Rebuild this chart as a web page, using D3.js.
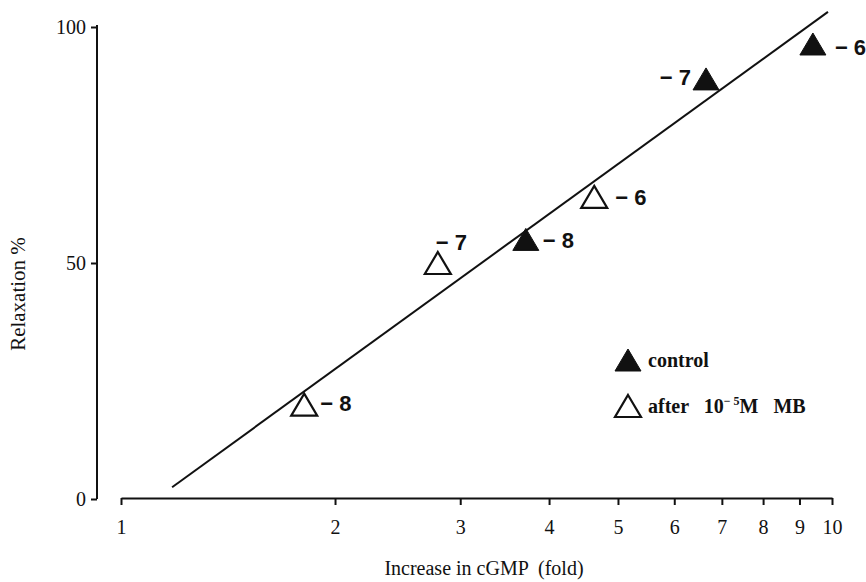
<!DOCTYPE html>
<meta charset="utf-8">
<style>
body { margin: 0; background: #fff; }
text { font-family: "Liberation Serif", "DejaVu Serif", serif; fill: #111; }
.axis path, .axis line { stroke: #111; stroke-width: 2; fill: none; }
.axis text { font-size: 20px; }
.pt { font-family: "Liberation Sans", Arial, sans-serif; font-weight: bold; font-size: 22px; }
</style>
<script src="https://d3js.org/d3.v7.min.js"></script>
<body>
<div id="chart"></div>
<script>
// data
var controlX = [3.71, 6.65, 9.4];
var controlY = [55, 89, 96.4];
var controlLabels = ["− 8", "− 7", "− 6"];

var afterX = [1.81, 2.79, 4.63];
var afterY = [20, 50, 64];
var afterLabels = ["− 8", "− 7", "− 6"];

var fitX = [1.18, 9.87];
var fitY = [2.5, 103.2];

var xTicks = [1, 2, 3, 4, 5, 6, 7, 8, 9, 10];
var yTicks = [0, 50, 100];

var W = 866, H = 582;

var svg = d3.select("#chart").append("svg")
    .attr("width", W)
    .attr("height", H);

var x = d3.scaleLog().domain([1, 10]).range([121, 832]);
var y = d3.scaleLinear().domain([0, 100]).range([499, 27]);

// y axis
var yAxis = svg.append("g")
    .attr("class", "axis")
    .attr("transform", "translate(97,0)")
    .call(d3.axisLeft(y).tickValues(yTicks).tickSize(6).tickSizeOuter(0).tickPadding(5));
yAxis.select(".domain").attr("d", "M0," + (y(100) - 2) + "V" + y(0));

// x axis
var xAxis = svg.append("g")
    .attr("class", "axis")
    .attr("transform", "translate(0,498)")
    .call(d3.axisBottom(x).tickValues(xTicks).tickFormat(d3.format("d")).tickSize(7).tickSizeOuter(0).tickPadding(15));

// axis titles
svg.append("text")
    .attr("transform", "translate(25,294) rotate(-90)")
    .attr("text-anchor", "middle")
    .style("font-size", "21px")
    .text("Relaxation %");

svg.append("text")
    .attr("x", 484)
    .attr("y", 575)
    .attr("text-anchor", "middle")
    .style("font-size", "20px")
    .style("white-space", "pre")
    .text("Increase in cGMP  (fold)");

// regression line
svg.append("path")
    .datum(d3.zip(fitX, fitY))
    .attr("fill", "none")
    .attr("stroke", "#111")
    .attr("stroke-width", 2)
    .attr("d", d3.line().x(function(d) { return x(d[0]); }).y(function(d) { return y(d[1]); }));

var tri = "M0,-11L13,11L-13,11Z";

// label offsets next to each triangle
var controlOff = [[17, 1, "start"], [-15, -2, "end"], [22, 3, "start"]];
var afterOff = [[16, -1, "start"], [-2, -21, "start"], [21, 0, "start"]];

function drawSeries(xs, ys, labels, offs, filled) {
  var data = d3.zip(xs, ys, labels, offs);
  var g = svg.append("g");
  g.selectAll("path")
    .data(data)
    .enter().append("path")
      .attr("d", tri)
      .attr("transform", function(d) { return "translate(" + x(d[0]) + "," + y(d[1]) + ")"; })
      .attr("fill", filled ? "#111" : "#fff")
      .attr("stroke", "#111")
      .attr("stroke-width", filled ? 1 : 2.2)
      .attr("stroke-linejoin", "miter");
  g.selectAll("text")
    .data(data)
    .enter().append("text")
      .attr("class", "pt")
      .attr("x", function(d) { return x(d[0]) + d[3][0]; })
      .attr("y", function(d) { return y(d[1]) + d[3][1]; })
      .attr("dy", "0.35em")
      .attr("text-anchor", function(d) { return d[3][2]; })
      .style("white-space", "pre")
      .text(function(d) { return d[2]; });
}

drawSeries(afterX, afterY, afterLabels, afterOff, false);
drawSeries(controlX, controlY, controlLabels, controlOff, true);

// legend
var legend = svg.append("g").attr("transform", "translate(628,360)");
legend.append("path").attr("d", tri).attr("fill", "#111").attr("stroke", "#111");
legend.append("text").attr("x", 20).attr("y", 7)
    .style("font-size", "20px").style("font-weight", "bold").text("control");

var leg2 = svg.append("g").attr("transform", "translate(628,406)");
leg2.append("path").attr("d", tri).attr("fill", "#fff").attr("stroke", "#111").attr("stroke-width", 2.2);
var lt = leg2.append("text").attr("x", 20).attr("y", 7)
    .style("font-size", "20px").style("font-weight", "bold").style("white-space", "pre");
lt.append("tspan").text("after   10");
lt.append("tspan").attr("dy", -8).style("font-size", "12px").text("− 5");
lt.append("tspan").attr("dy", 8).text("M   MB");
</script>
</body>
